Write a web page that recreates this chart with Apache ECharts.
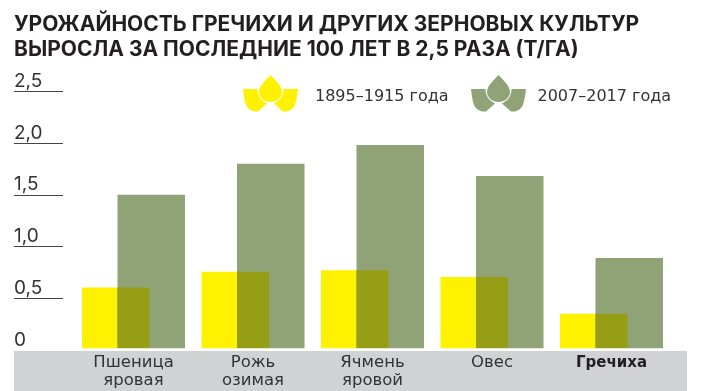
<!DOCTYPE html>
<html><head><meta charset="utf-8">
<style>html,body{margin:0;padding:0;background:#fff}#c{width:703px;height:391px}</style>
<script src="https://cdn.jsdelivr.net/npm/echarts@6/dist/echarts.min.js"></script>
</head><body><div id="c"></div>
<script>
const categories = ['Пшеница\nяровая','Рожь\nозимая','Ячмень\nяровой','Овес','Гречиха'];
const yield1895 = [0.605,0.755,0.77,0.705,0.35];
const yield2007 = [1.5,1.8,1.98,1.68,0.89];
const yTicks = ['0','0,5','1,0','1,5','2,0','2,5'];
const titleText = 'УРОЖАЙНОСТЬ ГРЕЧИХИ И ДРУГИХ ЗЕРНОВЫХ КУЛЬТУР\nВЫРОСЛА ЗА ПОСЛЕДНИЕ 100 ЛЕТ В 2,5 РАЗА (Т/ГА)';
const legendNames = ['1895–1915 года','2007–2017 года'];
const FONT = 'Inter', WIDE = 'DejaVu Sans';
const BW = 67.5, OVERLAP = 32;
const icon = 'path://M27.5 0C33 6 39 11 39 17C39 23 33 27 27.5 27C22 27 16 23 16 17C16 11 22 6 27.5 0Z'
 + 'M0 14L14.5 14C14.5 20 17 25 24 28.5L15 36.5C12 37 8 36 5 33C2 30 1 22 0 14Z'
 + 'M55 14L40.5 14C40.5 20 38 25 31 28.5L40 36.5C43 37 47 36 50 33C53 30 54 22 55 14Z'
 + 'M0 43L55 43';
const chart = echarts.init(document.getElementById('c'));
chart.setOption({
  animation:false,
  backgroundColor:'#fff',
  title:{left:14,top:12,padding:0,text:titleText,textStyle:{fontFamily:FONT,fontWeight:700,fontSize:21,lineHeight:25,color:'#231f20'}},
  legend:[
    {data:[legendNames[0]],left:243,top:75,padding:0,itemWidth:55,itemHeight:43,icon:icon,itemGap:0,
     textStyle:{fontFamily:WIDE,fontSize:16,color:'#333',padding:[0,0,0,12]}},
    {data:[legendNames[1]],left:471,top:75,padding:0,itemWidth:56,itemHeight:43,icon:icon,itemGap:0,
     textStyle:{fontFamily:WIDE,fontSize:16,color:'#333',padding:[0,0,0,6]}}
  ],
  grid:{left:73.75,right:31.75,top:91.25,bottom:41},
  xAxis:{type:'category',data:categories,z:20,axisLine:{show:false},axisTick:{show:false},
    axisLabel:{margin:4,interval:0,fontFamily:WIDE,fontSize:16.5,lineHeight:18,color:'#333',
      formatter:v=>v==='Гречиха'?'{b|'+v+'}':v,
      rich:{b:{fontFamily:WIDE,fontSize:15,fontWeight:700,color:'#231f20',lineHeight:18}}}},
  yAxis:{type:'value',min:0,max:2.5,interval:0.5,offset:10.75,z:1,splitLine:{show:false},
    axisLine:{show:false},axisTick:{show:true,length:49,lineStyle:{color:'#444',width:1}},
    axisLabel:{margin:49,align:'left',verticalAlign:'bottom',fontFamily:FONT,fontSize:19,color:'#333',
      lineHeight:20,formatter:(v)=>yTicks[Math.round(v/0.5)]}},
  series:[
    {name:legendNames[0],type:'bar',data:yield1895,barWidth:BW,barGap:'-47.4%',itemStyle:{color:'#FFF200'}},
    {name:legendNames[1],type:'bar',data:yield2007,barWidth:BW,itemStyle:{color:'#8FA377'}},
    {name:'overlap',type:'custom',z:3,silent:true,
     data:yield1895.map((v,i)=>[i,Math.min(v,yield2007[i])]),
     encode:{x:0,y:1},
     renderItem:(p,api)=>{
       const top=api.coord([api.value(0),api.value(1)]);
       const bot=api.coord([api.value(0),0]);
       return {type:'rect',shape:{x:top[0]-OVERLAP/2,y:top[1],width:OVERLAP,height:bot[1]-top[1]},style:{fill:'#969E16'}};
     }}
  ],
  graphic:[
    {type:'rect',z:10,shape:{x:0,y:348.3,width:703,height:2.7},style:{fill:'#fff'},silent:true},
    {type:'rect',z:11,shape:{x:14,y:351,width:673,height:40},style:{fill:'#D1D2D4'},silent:true}
  ]
});
</script></body></html>
